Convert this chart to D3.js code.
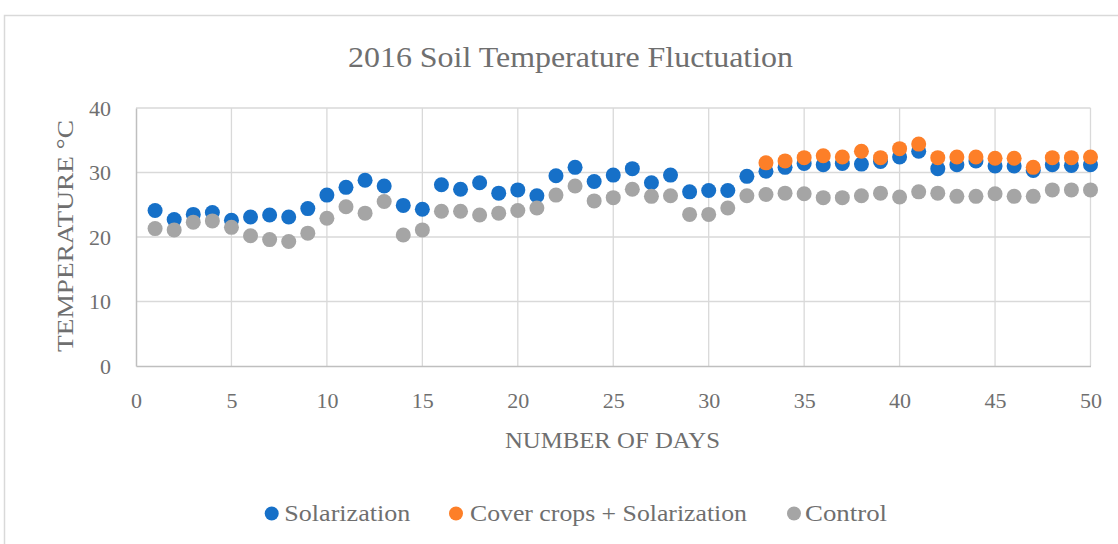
<!DOCTYPE html>
<html><head><meta charset="utf-8">
<script src="https://cdn.jsdelivr.net/npm/d3@7/dist/d3.min.js"></script>
<style>body{margin:0;background:#fff}svg{display:block}</style>
</head><body><svg id="c" width="1118" height="544"></svg>
<script>
const days = d3.range(1, 51);
const solarization = [24.1,22.7,23.5,23.8,22.6,23.1,23.4,23.1,24.4,26.5,27.7,28.8,27.9,24.9,24.3,28.1,27.4,28.4,26.8,27.3,26.4,29.5,30.8,28.6,29.6,30.6,28.4,29.6,27.0,27.2,27.2,29.4,30.2,30.8,31.4,31.2,31.4,31.3,31.7,32.4,33.3,30.6,31.2,31.8,31.0,31.0,30.3,31.2,31.1,31.2];
const coverSolar = [null,null,null,null,null,null,null,null,null,null,null,null,null,null,null,null,null,null,null,null,null,null,null,null,null,null,null,null,null,null,null,null,31.5,31.8,32.3,32.6,32.4,33.3,32.3,33.7,34.4,32.3,32.4,32.4,32.2,32.2,30.8,32.3,32.3,32.4];
const control = [21.3,21.1,22.3,22.5,21.5,20.2,19.6,19.3,20.6,22.9,24.7,23.7,25.5,20.3,21.1,24.0,24.0,23.4,23.7,24.1,24.5,26.5,27.9,25.6,26.1,27.4,26.3,26.4,23.5,23.5,24.5,26.4,26.6,26.8,26.7,26.1,26.1,26.4,26.8,26.2,27.0,26.8,26.3,26.3,26.7,26.3,26.3,27.3,27.3,27.3];
const xTicks = [0,5,10,15,20,25,30,35,40,45,50];
const yTicks = [0,10,20,30,40];
const seriesNames = ["Solarization","Cover crops + Solarization","Control"];
const seriesColors = ["#1670c8","#fd7f28","#a5a5a5"];
const seriesData = [solarization, coverSolar, control];

const svg = d3.select("#c");
const font = "'Liberation Serif', 'DejaVu Serif', serif";
const txt = "#6f6f6f";

svg.append("rect").attr("x",4.5).attr("y",15.5).attr("width",1120).attr("height",540)
  .attr("fill","none").attr("stroke","#d9d9d9").attr("stroke-width",1.5);

const x = d3.scaleLinear().domain([0,50]).range([136,1090.5]);
const y = d3.scaleLinear().domain([0,40]).range([366,108]);

svg.append("g").selectAll("line").data(yTicks.filter(d=>d>0)).join("line")
  .attr("x1",x(0)).attr("x2",x(50)).attr("y1",d=>y(d)).attr("y2",d=>y(d))
  .attr("stroke","#d9d9d9").attr("stroke-width",1.3);
svg.append("g").selectAll("line").data(xTicks.filter(d=>d>0)).join("line")
  .attr("x1",d=>x(d)).attr("x2",d=>x(d)).attr("y1",y(0)).attr("y2",y(40))
  .attr("stroke","#d9d9d9").attr("stroke-width",1.3);

const xAxis = svg.append("g").attr("transform",`translate(0,${y(0)})`)
  .call(d3.axisBottom(x).tickValues(xTicks).tickSize(0).tickPadding(26));
const yAxis = svg.append("g").attr("transform",`translate(${x(0)},0)`)
  .call(d3.axisLeft(y).tickValues(yTicks).tickSize(0).tickPadding(25));
[xAxis,yAxis].forEach(a=>{
  a.select(".domain").attr("stroke","#bfbfbf").attr("stroke-width",1.5);
  a.selectAll("text").attr("font-family",font).attr("font-size",22).attr("fill",txt);
});
yAxis.selectAll("text").attr("dy","0.34em");

seriesData.forEach((arr,i)=>{
  svg.append("g").selectAll("circle")
    .data(days.map((d,j)=>({d,v:arr[j]})).filter(p=>p.v!=null))
    .join("circle")
    .attr("cx",p=>x(p.d)).attr("cy",p=>y(p.v)).attr("r",7.5)
    .attr("fill",seriesColors[i]);
});

svg.append("text").attr("x",570.5).attr("y",67).attr("text-anchor","middle")
  .attr("font-family",font).attr("font-size",30).attr("fill",txt)
  .attr("textLength",445).attr("lengthAdjust","spacingAndGlyphs")
  .text("2016 Soil Temperature Fluctuation");
svg.append("text").attr("x",612.5).attr("y",448).attr("text-anchor","middle")
  .attr("font-family",font).attr("font-size",23).attr("fill",txt)
  .attr("textLength",215).attr("lengthAdjust","spacingAndGlyphs")
  .text("NUMBER OF DAYS");
svg.append("text").attr("transform","translate(73,236) rotate(-90)").attr("text-anchor","middle")
  .attr("font-family",font).attr("font-size",24).attr("fill",txt)
  .attr("textLength",232).attr("lengthAdjust","spacingAndGlyphs")
  .text("TEMPERATURE °C");

const legDot = [271.7, 456, 794];
const legTx = [284.3, 470, 805];
const legLen = [126, 277, 82];
const lg = svg.append("g");
seriesNames.forEach((n,i)=>{
  lg.append("circle").attr("cx",legDot[i]).attr("cy",513.5).attr("r",7).attr("fill",seriesColors[i]);
  lg.append("text").attr("x",legTx[i]).attr("y",521).attr("font-family",font)
    .attr("font-size",23).attr("fill",txt)
    .attr("textLength",legLen[i]).attr("lengthAdjust","spacingAndGlyphs").text(n);
});
</script></body></html>
